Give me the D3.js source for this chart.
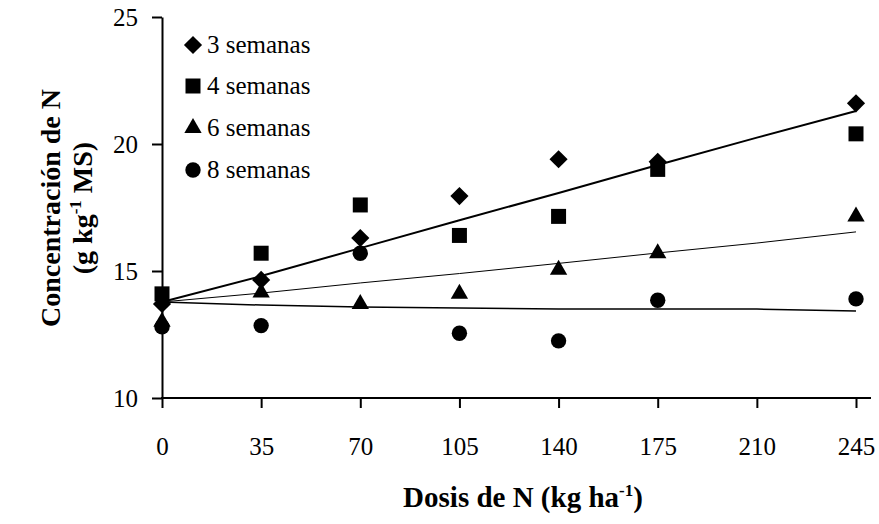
<!DOCTYPE html>
<html>
<head>
<meta charset="utf-8">
<script src="https://cdn.jsdelivr.net/npm/d3@7"></script>
<style>
  html, body { margin: 0; padding: 0; background: #fff; }
  text { font-family: "Liberation Serif", "Times New Roman", serif; fill: #000; }
</style>
</head>
<body>
<svg id="chart" width="879" height="524"></svg>
<script>
// ---- data ----
const doses = [0, 35, 70, 105, 140, 175, 245];
const xTicks = [0, 35, 70, 105, 140, 175, 210, 245];
const yTicks = [10, 15, 20, 25];
const seriesNames = ["3 semanas", "4 semanas", "6 semanas", "8 semanas"];
const sem3 = [13.7, 14.65, 16.3, 17.95, 19.4, 19.3, 21.6];
const sem4 = [14.1, 15.7, 17.6, 16.4, 17.15, 19.0, 20.4];
const sem6 = [13.0, 14.15, 13.7, 14.1, 15.05, 15.7, 17.15];
const sem8 = [12.8, 12.85, 15.7, 12.55, 12.25, 13.85, 13.9];
const trendDoses = [0, 35, 70, 105, 140, 175, 210, 245];
const trendA = [13.78, 14.8, 15.9, 17.0, 18.07, 19.17, 20.25, 21.3];
const trendB = [13.78, 14.13, 14.53, 14.9, 15.3, 15.71, 16.1, 16.54];
const trendC = [13.78, 13.66, 13.58, 13.54, 13.5, 13.5, 13.5, 13.43];

const svg = d3.select("#chart");
const x = d3.scaleLinear().domain([0, 245]).range([162, 856]);
const y = d3.scaleLinear().domain([10, 25]).range([398, 17]);

// axes
const yAxis = svg.append("g").attr("transform", "translate(162,0)")
  .call(d3.axisLeft(y).tickValues(yTicks).tickSize(10).tickSizeOuter(0).tickPadding(14));
yAxis.selectAll("path, line").attr("stroke", "#000").attr("stroke-width", 2);
yAxis.selectAll("text").attr("font-size", 25).attr("font-family", "Liberation Serif");

const xAxis = svg.append("g").attr("transform", "translate(0,398)")
  .call(d3.axisBottom(x).tickValues(xTicks).tickSize(10).tickSizeOuter(0));
xAxis.select(".domain").remove();
xAxis.selectAll("line").attr("stroke", "#000").attr("stroke-width", 2);
xAxis.selectAll("text").attr("font-size", 25).attr("font-family", "Liberation Serif")
  .attr("y", 57).attr("dy", 0);
svg.append("line").attr("x1", 161).attr("x2", 871).attr("y1", 398).attr("y2", 398)
  .attr("stroke", "#000").attr("stroke-width", 2);

// trend lines
const line = d3.line().x((d, i) => x(trendDoses[i])).y(d => y(d));
[[trendA, 2], [trendB, 1], [trendC, 1.5]].forEach(([vals, w]) => {
  svg.append("path").datum(vals).attr("d", line)
    .attr("fill", "none").attr("stroke", "#000").attr("stroke-width", w);
});

// markers
const shapes = [
  { type: d3.symbolSquare, size: 165, rot: 45 },
  { type: d3.symbolSquare, size: 225, rot: 0 },
  { type: d3.symbolTriangle, size: 130, rot: 0 },
  { type: d3.symbolCircle, size: 185, rot: 0 }
];
const allSeries = [sem3, sem4, sem6, sem8];
allSeries.forEach((vals, si) => {
  const s = shapes[si];
  svg.append("g").selectAll("path").data(vals).join("path")
    .attr("d", d3.symbol(s.type, s.size))
    .attr("transform", (d, i) => `translate(${x(doses[i])},${y(d)}) rotate(${s.rot})`)
    .attr("fill", "#000");
});

// legend
const legendY = [45, 86, 128, 170];
seriesNames.forEach((name, i) => {
  const s = shapes[i];
  svg.append("path").attr("d", d3.symbol(s.type, s.size))
    .attr("transform", `translate(193,${legendY[i]}) rotate(${s.rot})`).attr("fill", "#000");
  svg.append("text").attr("x", 207).attr("y", legendY[i] + 8)
    .attr("font-size", 25).text(name);
});

// axis titles
const xt = svg.append("text").attr("x", 523).attr("y", 507).attr("text-anchor", "middle")
  .attr("font-size", 29).attr("font-weight", "bold");
xt.append("tspan").text("Dosis de N (kg ha");
xt.append("tspan").attr("font-size", 17).attr("dy", -11).text("-1");
xt.append("tspan").attr("dy", 11).text(")");

const yt1 = svg.append("text").attr("transform", "translate(60,208) rotate(-90)")
  .attr("text-anchor", "middle").attr("font-size", 28).attr("font-weight", "bold")
  .text("Concentración de N");
const yt2 = svg.append("text").attr("transform", "translate(92,208) rotate(-90)")
  .attr("text-anchor", "middle").attr("font-size", 28).attr("font-weight", "bold");
yt2.append("tspan").text("(g kg");
yt2.append("tspan").attr("font-size", 17).attr("dy", -11).text("-1");
yt2.append("tspan").attr("dy", 11).text(" MS)");
</script>
</body>
</html>
